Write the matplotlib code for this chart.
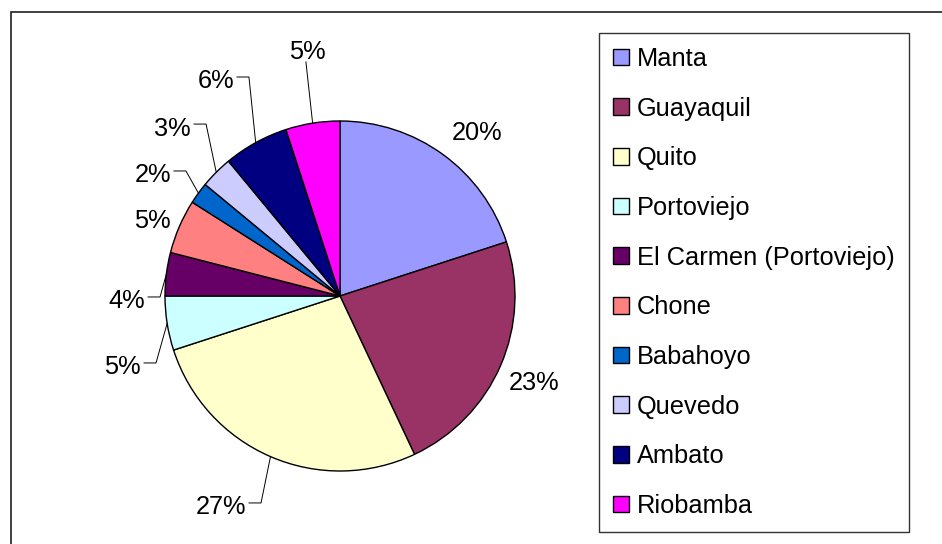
import matplotlib
matplotlib.use("Agg")
import numpy as np
import matplotlib.pyplot as plt
from matplotlib.patches import Rectangle

plt.rcParams['font.family'] = ['Liberation Sans', 'DejaVu Sans']

# data
cities = ['Manta', 'Guayaquil', 'Quito', 'Portoviejo', 'El Carmen (Portoviejo)',
          'Chone', 'Babahoyo', 'Quevedo', 'Ambato', 'Riobamba']
shares = [20, 23, 27, 5, 4, 5, 2, 3, 6, 5]
colors = ['#9999FF', '#993366', '#FFFFCC', '#CCFFFF', '#660066',
          '#FF8080', '#0066CC', '#CCCCFF', '#000080', '#FF00FF']

# label layout (pie radius units): x, y, horizontal alignment, leader style
label_pos = [(0.783, 0.943, 'center', None),
             (1.109, -0.480, 'center', None),
             (-0.537, -1.194, 'right', 'elbow'),
             (-1.137, -0.394, 'right', 'elbow'),
             (-1.114, -0.017, 'right', 'elbow'),
             (-0.965, 0.440, 'right', None),
             (-0.966, 0.703, 'right', 'elbow'),
             (-0.851, 0.971, 'right', 'elbow'),
             (-0.606, 1.240, 'right', 'elbow'),
             (-0.189, 1.406, 'center', 'below')]

W, H = 942, 544
R = 175.0
cx, cy = 340, 296
fs = 18.3

fig = plt.figure(figsize=(W / 100, H / 100), dpi=100)
ax = fig.add_axes([0, 0, 1, 1])
ax.axis('off')

wedges, _ = ax.pie(shares, colors=colors, startangle=90, counterclock=False,
                   radius=1.0, wedgeprops=dict(edgecolor='black', linewidth=1.0))
ax.set_xlim(-cx / R, (W - cx) / R)
ax.set_ylim(-(H - cy) / R, cy / R)

total = float(sum(shares))
cum = np.cumsum([0] + shares)
px = 1.0 / R
for i, v in enumerate(shares):
    mid = 90 - 360 * (cum[i] + v / 2.0) / total
    ex, ey = np.cos(np.radians(mid)), np.sin(np.radians(mid))
    lx, ly, ha, leader = label_pos[i]
    ax.text(lx, ly, '%d%%' % round(100 * v / total), ha=ha, va='center_baseline',
            fontsize=fs, color='black')
    if leader == 'elbow':
        xs = [lx + 3 * px, lx + 15 * px, ex]
        ys = [ly + 2 * px, ly + 2 * px, ey]
        ax.plot(xs, ys, color='black', lw=0.7)
    elif leader == 'below':
        ax.plot([lx - 1 * px, ex], [ly - 12 * px, ey], color='black', lw=0.7)

# outer chart frame
fig.patches.append(Rectangle((11 / W, -0.1), 1.2, 1 - 12 / H + 0.1,
                             transform=fig.transFigure, fill=False,
                             edgecolor='#202020', linewidth=1.2))

handles = [Rectangle((0, 0), 1, 1, facecolor=c, edgecolor='black', linewidth=1.0)
           for c in colors]
leg = fig.legend(handles, cities, loc='upper left',
                 bbox_to_anchor=(599 / W, 1 - 33 / H), fontsize=fs,
                 frameon=True, fancybox=False, shadow=False,
                 handlelength=0.63, handleheight=0.63, handletextpad=0.31,
                 borderpad=0.55, labelspacing=1.01, borderaxespad=0)
leg.get_frame().set_edgecolor('black')
leg.get_frame().set_linewidth(1.0)

fig.savefig('out.png', dpi=100, facecolor='white')
